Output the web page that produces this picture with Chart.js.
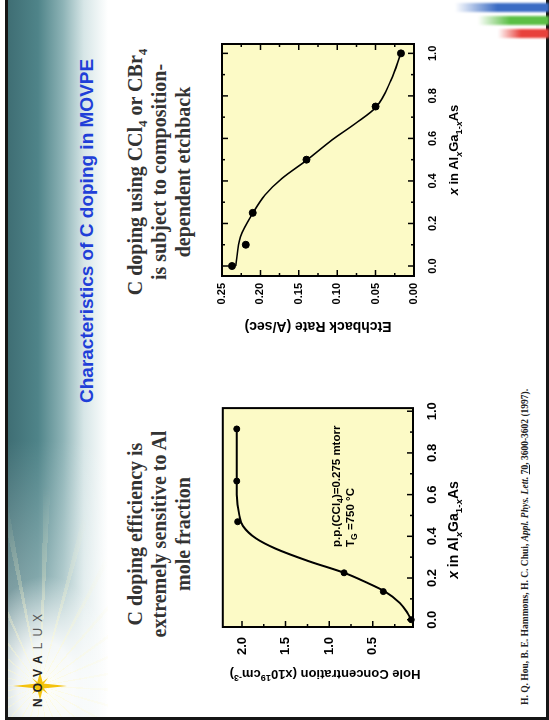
<!DOCTYPE html>
<html>
<head>
<meta charset="utf-8">
<script src="https://cdn.jsdelivr.net/npm/chart.js@4.4.1/dist/chart.umd.min.js"></script>
<style>
  html, body { margin: 0; padding: 0; width: 549px; height: 720px; overflow: hidden; background: #fff; }
  /* the slide is landscape 720x549, shown turned a quarter to the left */
  #slide { position: absolute; left: 0; top: 0; width: 720px; height: 549px; transform-origin: 0 0;
           transform: translate(0, 720px) rotate(-90deg); background: #fff; overflow: hidden;
           font-family: "Liberation Sans", Arial, sans-serif; }
  #band { position: absolute; left: 0; top: 8px; width: 720px; height: 100px;
          background:
            radial-gradient(ellipse 110px 70px at 34px 38px, rgba(255,255,248,1) 0%, rgba(255,255,255,0.85) 40%, rgba(255,255,255,0) 100%),
            linear-gradient(to right, rgba(255,255,255,0.6) 0px, rgba(255,255,255,0) 280px),
            linear-gradient(to bottom, #3f6e74 0%, #4f8489 30%, #8db3b6 55%, #d7e6e7 76%, rgba(255,255,255,0) 100%); }
  #rays { position: absolute; left: 0; top: 8px; width: 260px; height: 100px;
          background: repeating-conic-gradient(from 0deg at 34px 32px, rgba(255,250,205,0.55) 0deg 2deg, rgba(255,255,255,0) 2deg 13deg);
          -webkit-mask-image: radial-gradient(ellipse 200px 90px at 34px 32px, #000 0%, rgba(0,0,0,0) 100%); }
  #frame { position: absolute; left: 0; top: 5px; width: 720px; height: 544px; box-sizing: border-box;
           border-top: 3px solid #151515; border-left: 3px solid #151515; border-bottom: 3px solid #151515; }
  #star { position: absolute; left: 0; top: 0; }
  #logo { position: absolute; left: 13px; top: 31px; font-size: 12px; letter-spacing: 6px; color: #222; font-weight: bold; white-space: nowrap; }
  #logo .lux { color: #555; font-weight: normal; }
  #title { position: absolute; left: 317px; top: 77px; font-size: 19px; font-weight: bold; color: #1f3fd8; white-space: nowrap; line-height: 1; }
  .note { position: absolute; top: 123px; width: 300px; text-align: center; font-family: "Liberation Serif", "Times New Roman", serif;
          font-weight: bold; font-size: 20px; line-height: 24px; color: #333; }
  .note sub { font-size: 13px; line-height: 0; }
  .plot { position: absolute; }
  .lbl { position: absolute; font-weight: bold; color: #000; white-space: nowrap; text-align: center; line-height: 16px; }
  .lbl sub, .lbl sup { font-size: 70%; line-height: 0; }
  .rot { transform: rotate(-90deg); }
  #anno { position: absolute; left: 173px; top: 329px; font-size: 11.5px; font-weight: bold; line-height: 14px; white-space: nowrap; }
  #anno sub { font-size: 75%; line-height: 0; }
  #cite { position: absolute; left: 15px; top: 520px; font-family: "Liberation Serif", "Times New Roman", serif; font-size: 9.5px;
          font-weight: bold; color: #222; white-space: nowrap; }
  .stripe { position: absolute; width: 9px; filter: blur(1px); }
</style>
</head>
<body>
<div id="slide">
  <div id="band"></div>
  <div id="rays"></div>
  <div id="frame"></div>
  <svg id="star" width="80" height="80">
    <polygon points="34,13 36.5,37 48,40 36.5,43 34,67 31.5,43 20,40 31.5,37" fill="#f4c20d"/>
    <polygon points="26,32 35,38 42,32 36,40 42,48 34,42 26,48 32,40" fill="#f4c20d"/>
  </svg>
  <div id="logo">NOVA<span class="lux">LUX</span></div>
  <div id="title">Characteristics of C doping in MOVPE</div>
  <div class="note" style="left:36px">C doping efficiency is<br>extremely sensitive to Al<br>mole fraction</div>
  <div class="note" style="left:398px">C doping using CCl<sub>4</sub> or CBr<sub>4</sub><br>is subject to composition-<br>dependent etchback</div>

  <div class="plot" style="left:30px;top:205px"><canvas id="holeChart" width="300" height="250"></canvas></div>
  <div class="plot" style="left:380px;top:205px"><canvas id="etchChart" width="310" height="250"></canvas></div>

  <div id="anno">p.p.(CCl<sub>4</sub>)=0.275 mtorr<br>T<sub>G</sub> =750 °C</div>
  <div class="lbl rot" style="left:-74px;top:317px;width:240px;font-size:13px">Hole Concentration (x10<sup>19</sup>cm<sup>-3</sup>)</div>
  <div class="lbl" style="left:90px;top:445px;width:200px;font-size:14px"><i>x</i> in Al<sub><i>x</i></sub>Ga<sub>1-<i>x</i></sub>As</div>
  <div class="lbl rot" style="left:273px;top:310px;width:240px;font-size:14px">Etchback Rate (A/sec)</div>
  <div class="lbl" style="left:470px;top:446px;width:200px;font-size:13px"><i>x</i> in Al<sub><i>x</i></sub>Ga<sub>1-<i>x</i></sub>As</div>

  <div id="cite">H. Q. Hou, B. E. Hammons, H. C. Chui, <i>Appl. Phys. Lett.</i> <u>70</u>, 3600-3602 (1997).</div>

  <div class="stripe" style="left:708px;top:455px;height:94px;background:linear-gradient(to bottom, rgba(59,108,196,0), #3b6cc4 45%)"></div>
  <div class="stripe" style="left:695px;top:478px;height:71px;background:linear-gradient(to bottom, rgba(91,191,69,0), #5bbf45 45%)"></div>
  <div class="stripe" style="left:682px;top:498px;height:51px;background:linear-gradient(to bottom, rgba(232,65,60,0), #e8413c 45%)"></div>
</div>

<script>
// left plot: hole concentration (x10^19 cm^-3) vs x in AlxGa1-xAs
const holeX = [0, 0.135, 0.225, 0.47, 0.665, 0.915];
const holeConc = [0.06, 0.38, 0.83, 2.05, 2.06, 2.06];
// hand-drawn guide curve through them
const holeFitX = [0, 0.03, 0.08, 0.135, 0.18, 0.225, 0.28, 0.34, 0.39, 0.45, 0.5, 0.6, 0.915];
const holeFitY = [0.06, 0.10, 0.19, 0.36, 0.58, 0.83, 1.23, 1.61, 1.84, 1.99, 2.03, 2.06, 2.06];

// right plot: etchback rate (A/sec) vs x
const etchX = [0, 0.1, 0.25, 0.5, 0.75, 1.0];
const etchRate = [0.237, 0.219, 0.210, 0.140, 0.050, 0.017];
const etchFitX = [0, 0.138, 0.248, 0.334, 0.412, 0.497, 0.592, 0.671, 0.745, 0.874, 1.0];
const etchFitY = [0.232, 0.226, 0.210, 0.194, 0.172, 0.140, 0.107, 0.076, 0.050, 0.030, 0.017];

// ticks
const xTicks = [0, 0.2, 0.4, 0.6, 0.8, 1.0];
const xMinor = [0.1, 0.3, 0.5, 0.7, 0.9];
const holeTicks = [0.5, 1.0, 1.5, 2.0];
const holeMinor = [0.25, 0.75, 1.25, 1.75];
const etchTicks = [0, 0.05, 0.10, 0.15, 0.20, 0.25];
const etchMinor = [0.025, 0.075, 0.125, 0.175, 0.225];

const PLOT_BG = '#fcfac6';

// yellow plot area, black frame and inward tick marks (major + minor)
const frameTicks = {
    id: 'frameTicks',
    beforeDraw(chart, args, opts) {
        const { ctx, chartArea: a } = chart;
        ctx.save();
        ctx.fillStyle = PLOT_BG;
        ctx.fillRect(a.left, a.top, a.width, a.height);
        ctx.restore();
    },
    afterDraw(chart, args, opts) {
        const { ctx, chartArea: a, scales: { x, y } } = chart;
        ctx.save();
        ctx.strokeStyle = '#000';
        ctx.lineWidth = 1.5;
        ctx.beginPath();
        const xMarks = (vals, len) => vals.forEach(v => {
            const p = x.getPixelForValue(v);
            ctx.moveTo(p, a.bottom); ctx.lineTo(p, a.bottom - len);
            if (opts.mirror) { ctx.moveTo(p, a.top); ctx.lineTo(p, a.top + len); }
        });
        const yMarks = (vals, len) => vals.forEach(v => {
            const p = y.getPixelForValue(v);
            ctx.moveTo(a.left, p); ctx.lineTo(a.left + len, p);
            if (opts.mirror) { ctx.moveTo(a.right, p); ctx.lineTo(a.right - len, p); }
        });
        xMarks(opts.xMajor, 6); xMarks(opts.xMinor, 3);
        yMarks(opts.yMajor, 6); yMarks(opts.yMinor, 3);
        ctx.stroke();
        ctx.lineWidth = opts.frameWidth;
        ctx.strokeRect(a.left, a.top, a.width, a.height);
        ctx.restore();
    }
};

function axis(min, max, ticks, digits, fontSize, pad, fit) {
    return {
        type: 'linear', min, max,
        grid: { display: false, drawTicks: false },
        border: { display: false },
        afterBuildTicks: s => { s.ticks = ticks.map(v => ({ value: v })); },
        afterFit: fit,
        ticks: {
            padding: pad, color: '#000', autoSkip: false, maxRotation: 0,
            font: { family: 'Liberation Sans', size: fontSize, weight: 'bold' },
            callback: v => Number(v).toFixed(digits)
        }
    };
}

function makePlot(id, fitX, fitY, ptX, ptY, opts) {
    new Chart(document.getElementById(id), {
        type: 'scatter',
        data: {
            datasets: [
                {
                    data: fitX.map((x, i) => ({ x, y: fitY[i] })),
                    showLine: true, borderColor: '#000', borderWidth: opts.lineWidth,
                    pointRadius: 0, cubicInterpolationMode: 'monotone', clip: false
                },
                {
                    data: ptX.map((x, i) => ({ x, y: ptY[i] })),
                    pointRadius: opts.dot, backgroundColor: '#000', borderColor: '#000', clip: false
                }
            ]
        },
        options: {
            responsive: false,
            animation: false,
            devicePixelRatio: 1,
            layout: { padding: opts.padding },
            plugins: {
                legend: { display: false },
                tooltip: { enabled: false },
                frameTicks: opts.frame
            },
            scales: {
                x: axis(opts.xMin, opts.xMax, xTicks, 1, opts.font, 12, s => { s.height = opts.xH; }),
                y: axis(opts.yMin, opts.yMax, opts.yTicks, opts.yDigits, opts.font, opts.yPad, s => { s.width = opts.yW; })
            }
        },
        plugins: [frameTicks]
    });
}

makePlot('holeChart', holeFitX, holeFitY, holeX, holeConc, {
    lineWidth: 2, dot: 3, font: 13,
    padding: { left: 0, right: 13, top: 14, bottom: 0 },
    xMin: -0.035, xMax: 1.015, yMin: 0.04, yMax: 2.22,
    yTicks: holeTicks, yDigits: 1, yPad: 10, xH: 42, yW: 63,
    frame: { mirror: false, frameWidth: 2, xMajor: xTicks, xMinor: xMinor, yMajor: holeTicks, yMinor: holeMinor }
});

makePlot('etchChart', etchFitX, etchFitY, etchX, etchRate, {
    lineWidth: 1.6, dot: 3.5, font: 11,
    padding: { left: 0, right: 14, top: 17, bottom: 0 },
    xMin: -0.047, xMax: 1.044, yMin: 0, yMax: 0.25,
    yTicks: etchTicks, yDigits: 2, yPad: 7, xH: 41, yW: 64,
    frame: { mirror: true, frameWidth: 2, xMajor: xTicks, xMinor: xMinor, yMajor: etchTicks, yMinor: etchMinor }
});
</script>
</body>
</html>
